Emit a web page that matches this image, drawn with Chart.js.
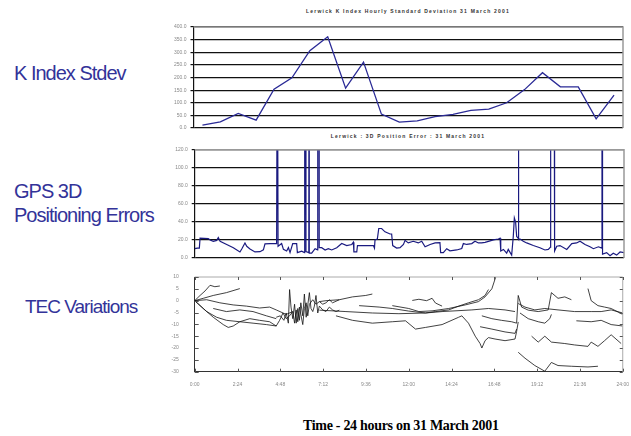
<!DOCTYPE html>
<html>
<head>
<meta charset="utf-8">
<script src="https://cdn.jsdelivr.net/npm/chart.js@4.4.0/dist/chart.umd.min.js"></script>
<style>
body { margin: 0; width: 631px; height: 436px; background: #fff; position: relative; overflow: hidden; font-family: Arial, "Liberation Sans", sans-serif; }
canvas { position: absolute; }
.side { position: absolute; color: #333399; font-size: 20px; line-height: 20px; letter-spacing: -1px; white-space: nowrap; }
.ctitle { position: absolute; font-size: 5px; line-height: 5px; font-weight: bold; letter-spacing: 1.2px; white-space: nowrap; text-align: center; color: #333; }
#xlabel { position: absolute; left: 303px; top: 419px; font-family: "Liberation Serif", "Times New Roman", serif; font-weight: bold; font-size: 14px; line-height: 14px; letter-spacing: -0.3px; white-space: nowrap; }
</style>
</head>
<body>
<div class="side" style="left:14px;top:63px">K Index Stdev</div>
<div class="side" style="left:14px;top:181px">GPS 3D</div>
<div class="side" style="left:14px;top:205px">Positioning Errors</div>
<div class="side" style="left:25px;top:297px;font-size:19px">TEC Variations</div>

<div class="ctitle" style="left:193px;width:430px;top:9px">Lerwick K Index Hourly Standard Deviation 31 March 2001</div>
<div class="ctitle" style="left:193px;width:430px;top:134px">Lerwick : 3D Position Error : 31 March 2001</div>

<canvas id="kChart" width="481" height="115" style="left:150px;top:20px"></canvas>
<canvas id="gpsChart" width="481" height="125" style="left:150px;top:140px"></canvas>
<canvas id="tecChart" width="481" height="125" style="left:150px;top:266px"></canvas>

<div id="xlabel">Time - 24 hours on 31 March 2001</div>

<script>
// K index hourly standard deviation
const kHours = ['00', '01', '02', '03', '04', '05', '06', '07', '08', '09', '10', '11',
    '12', '13', '14', '15', '16', '17', '18', '19', '20', '21', '22', '23'];
const kStdev = [11, 24, 58, 31, 154, 199, 306, 361, 158, 261, 55, 23,
    28, 45, 54, 70, 75, 100, 152, 219, 163, 163, 36, 130];

// GPS 3D position error, [hour, metres]
const gpsError = [
    [0, 10.3], [0.15, 11], [0.26, 11], [0.30, 22], [0.76, 21.5], [0.86, 20], [1.04, 18.5], [1.23, 19.5],
    [1.32, 22.7], [1.42, 18.5], [1.79, 15], [2.16, 11.4], [2.53, 6.7], [2.63, 10], [2.81, 16.7], [2.91, 13],
    [3.09, 10], [3.37, 6.7], [3.65, 7], [3.84, 9], [3.93, 15.6], [4.21, 16], [4.58, 16], [4.60, 16],
    [4.62, 300], [4.64, 300], [4.66, 13], [4.86, 16], [4.96, 9.6], [5.14, 7.8], [5.24, 11.5], [5.33, 6],
    [5.48, 16], [5.70, 16], [5.74, 6], [5.98, 7.5], [6.14, 6], [6.15, 300], [6.21, 300], [6.22, 7],
    [6.38, 6], [6.39, 300], [6.40, 300], [6.41, 5.3], [6.54, 5.3], [6.73, 10.3], [6.87, 9], [6.88, 300],
    [6.95, 300], [6.96, 11.4], [7.10, 11.4], [7.29, 8.9], [7.47, 10.3], [7.66, 8.9], [7.94, 11.4], [8.22, 16],
    [8.50, 13.8], [8.78, 15], [8.87, 17.4], [8.90, 6.7], [9.06, 6.7], [9.10, 13.8], [9.62, 13.8], [9.99, 13.8],
    [10.05, 11], [10.08, 20], [10.21, 21], [10.29, 32.7], [10.45, 32.7], [10.64, 29], [10.92, 26.6], [11.01, 26.6],
    [11.07, 13.8], [11.29, 11], [11.48, 11.4], [11.67, 15], [11.76, 19.5], [11.94, 16.7], [12.22, 18.5], [12.50, 16.7],
    [12.69, 18.5], [12.88, 12.4], [13.16, 15], [13.44, 16.7], [13.71, 17], [13.75, 6], [13.90, 6], [14.09, 10.3],
    [14.27, 8], [14.65, 8.9], [14.93, 10.5], [15.02, 16], [15.21, 15], [15.49, 16], [15.67, 18.5], [15.86, 16.7],
    [16.04, 16.7], [16.23, 17.4], [16.42, 18.5], [16.70, 20], [16.98, 21], [17.07, 22], [17.11, 7.8], [17.26, 9.5],
    [17.44, 5.3], [17.53, 9.5], [17.72, 3.2], [17.81, 23.8], [17.87, 44.4], [17.94, 39.8], [18.00, 23.8], [18.08, 22],
    [18.09, 300], [18.11, 300], [18.12, 21], [18.19, 21], [18.37, 18.5], [18.56, 16.7], [18.93, 13.8], [19.30, 11.4],
    [19.58, 8.9], [19.77, 9.5], [19.89, 12], [19.90, 300], [20.09, 300], [20.10, 8], [20.14, 7.8], [20.24, 13],
    [20.42, 13.8], [20.80, 9.5], [21.08, 16], [21.35, 16.7], [21.54, 18.5], [21.82, 15], [22.10, 12.4], [22.29, 10.3],
    [22.57, 12.4], [22.76, 11], [22.77, 300], [22.79, 300], [22.80, 4.3], [23.03, 6], [23.22, 2.5], [23.40, 5.3],
    [23.59, 3.2], [23.78, 6.7], [24.00, 6]
];

// TEC variation arcs, one per satellite pass, [hour, TEC units]
const tec1 = [[0, 0], [0.30, 2.2], [0.58, 4.1], [0.86, 6.5], [1.13, 5.9], [1.41, 6.2]];
const tec2 = [[0, 0], [0.48, 1.0], [1.04, 2.2], [1.78, 3.4], [2.53, 5.1]];
const tec3 = [[0, 0], [0.48, -3.3], [1.04, -7.0], [1.60, -10.1], [1.88, -11.3], [2.16, -10.7], [2.53, -8.9],
    [3.09, -7.6], [3.64, -8.3], [4.20, -8.9], [4.57, -10.7]];
const tec4 = [[0, 0], [0.67, -4.6], [1.23, -7.0], [1.78, -8.3], [2.53, -8.9], [3.27, -9.5], [4.02, -10.1],
    [4.57, -10.7], [4.76, -8.3]];
const tec5 = [[0, 0], [0.67, 0.4], [1.41, -0.9], [2.16, -1.8], [2.90, -2.3], [3.64, -3.1], [4.20, -2.7],
    [4.57, -3.9], [5.13, -5.8], [5.50, -4.6]];
const tec6 = [[1.04, -3.3], [1.78, -4.6], [2.53, -3.9], [3.27, -4.6], [4.02, -6.4], [4.57, -7.6]];
const tec7 = [[4.57, -7.0], [4.80, -6.4], [5.00, -8.3], [5.13, -5.2], [5.25, -9.5], [5.32, 4.7], [5.40, -2.7],
    [5.50, -7.6], [5.60, -1.5], [5.69, -9.5], [5.78, -3.3], [5.87, -8.3], [5.95, -0.9], [6.06, -6.4], [6.15, 2.8],
    [6.25, -7.0], [6.34, -1.8], [6.43, 3.4], [6.52, -3.3], [6.62, -4.6], [6.71, -2.3], [6.80, 2.2], [6.90, -5.2],
    [6.99, -2.3], [7.18, -3.9], [7.36, -4.6], [7.55, -2.7], [7.73, -3.9], [7.92, -4.6], [8.11, -4.0]];
const tec8 = [[4.76, -8.3], [4.95, -5.2], [5.13, -7.6], [5.32, -6.4], [5.50, -4.6], [5.60, -9.5], [5.69, -3.9],
    [5.78, -8.9], [5.87, -2.7], [6.06, -10.1], [6.15, -3.3], [6.25, -0.9], [6.34, -6.4], [6.43, -1.5], [6.62, 0.4],
    [6.80, -1.5], [6.99, -0.4], [7.18, -1.5], [7.36, -0.9], [7.55, 0.4], [7.73, -0.9], [8.11, 0.4]];
const tec9 = [[6.99, -0.4], [7.36, 0.0], [8.11, 0.4], [8.85, 1.6], [9.59, 2.2], [9.96, 2.8]];
const tec10 = [[6.99, -4.0], [8.48, -4.6], [9.96, -5.2], [11.45, -5.5], [12.94, -5.2], [13.87, -4.6],
    [15.54, -3.9], [16.47, -3.3], [17.40, -3.9], [17.96, -4.6]];
const tec11 = [[7.92, -6.4], [8.85, -8.3], [9.96, -9.5], [11.08, -8.9], [11.82, -8.5], [12.38, -12.0],
    [12.94, -11.3], [13.87, -10.1], [14.80, -7.0], [14.98, -6.4]];
const tec12 = [[9.22, -2.1], [10.34, -2.7], [11.08, -3.3], [12.0, -4.4], [12.94, -5.2], [13.50, -4.6],
    [14.24, -3.9], [14.80, -2.3], [15.35, -0.9], [15.91, 0.4], [16.28, 2.2], [16.47, 4.7]];
const tec13 = [[11.08, -2.1], [12.0, -3.3], [12.57, -4.6], [13.31, -4.3], [14.24, -3.3], [15.17, -1.8],
    [15.91, -0.4], [16.28, 1.6], [16.66, 5.0], [16.90, 10.5]];
const tec14 = [[12.20, 0.1], [12.57, 0.6], [13.0, 0.0], [13.31, 1.0], [13.50, -1.0], [13.87, -2.3]];
const tec15 = [[14.98, -6.4], [15.35, -9.5], [15.73, -15.0], [16.0, -18.1], [16.10, -20.0], [16.28, -16.9],
    [16.47, -15.6], [16.84, -16.2], [17.40, -16.9], [17.96, -16.2], [18.05, -13.0], [18.14, -9.0]];
const tec16 = [[16.0, -11.0], [16.66, -12.0], [17.40, -13.2], [17.96, -13.8], [18.05, -12.0]];
const tec17 = [[16.10, -6.4], [16.66, -7.6], [17.20, -8.3], [17.77, -8.9], [18.05, -9.5], [18.14, 2.2],
    [18.33, -2.7], [18.70, -4.0], [19.26, -4.6], [19.82, -3.9], [20.00, 3.4], [20.37, 1.0], [20.75, 1.6], [21.12, 0.4]];
const tec18 = [[18.14, -1.2], [18.52, -2.7], [19.07, -3.9], [19.63, -3.3], [20.37, -3.9], [21.30, -4.6],
    [22.23, -4.6], [22.79, -4.6], [23.35, -3.9], [24.0, -5.2]];
const tec19 = [[18.24, -5.2], [18.70, -7.6], [19.26, -8.9], [19.63, -9.5], [19.91, -7.6], [20.0, -5.8]];
const tec20 = [[18.89, -15.0], [19.26, -17.5], [19.63, -15.0], [20.0, -17.5], [20.75, -18.1], [21.30, -18.7],
    [22.05, -19.3], [22.23, -17.5], [22.61, -19.3], [22.98, -16.9], [23.35, -14.4], [23.91, -18.1]];
const tec21 = [[18.14, -21.8], [18.52, -24.3], [19.07, -27.4], [19.63, -29.8], [20.0, -26.1], [20.37, -27.4],
    [21.12, -27.7], [22.05, -28.0], [22.61, -27.7]];
const tec22 = [[22.05, 5.1], [22.23, 0.0], [22.61, -2.1], [22.98, -2.7], [23.35, -3.3], [24.0, -5.8]];
const tec23 = [[21.40, -8.5], [22.23, -8.9], [22.79, -8.3], [23.35, -10.1], [24.0, -10.7]];

const tecTicks = [10, 5, 0, -5, -10, -15, -20, -25, -30];
const timeTicks = [0, 2.4, 4.8, 7.2, 9.6, 12, 14.4, 16.8, 19.2, 21.6, 24];

const tickFont = { family: 'Arial', size: 5 };
const tickColor = '#888';

// gray frame along the top and right of the plot area
const framePlugin = {
    id: 'frame',
    afterDraw(chart, args, opts) {
        const a = chart.chartArea;
        const ctx = chart.ctx;
        ctx.save();
        ctx.strokeStyle = opts.color || '#999';
        ctx.lineWidth = opts.width || 1.5;
        ctx.beginPath();
        ctx.moveTo(a.left, a.top);
        ctx.lineTo(a.right, a.top);
        ctx.lineTo(a.right, a.bottom);
        ctx.stroke();
        ctx.restore();
    }
};

// short tick marks pointing into the plot area
const innerTicks = {
    id: 'innerTicks',
    afterDraw(chart) {
        const a = chart.chartArea;
        const ctx = chart.ctx;
        const x = chart.scales.x, y = chart.scales.y;
        ctx.save();
        ctx.strokeStyle = '#555';
        ctx.lineWidth = 1;
        ctx.beginPath();
        y.ticks.forEach(t => {
            const py = Math.round(y.getPixelForValue(t.value)) + 0.5;
            ctx.moveTo(a.left, py); ctx.lineTo(a.left + 4, py);
            ctx.moveTo(a.right, py); ctx.lineTo(a.right - 3, py);
        });
        x.ticks.forEach(t => {
            const px = Math.round(x.getPixelForValue(t.value)) + 0.5;
            ctx.moveTo(px, a.bottom); ctx.lineTo(px, a.bottom - 3);
            ctx.moveTo(px, a.top); ctx.lineTo(px, a.top + 3);
        });
        ctx.stroke();
        ctx.restore();
    }
};

Chart.defaults.animation = false;
Chart.defaults.responsive = false;
Chart.defaults.devicePixelRatio = 1;
Chart.defaults.plugins.legend.display = false;
Chart.defaults.plugins.tooltip.enabled = false;

new Chart(document.getElementById('kChart'), {
    type: 'line',
    data: {
        labels: kHours,
        datasets: [{
            data: kStdev,
            borderColor: '#2a2a96',
            borderWidth: 1.3,
            pointRadius: 0,
            tension: 0
        }]
    },
    options: {
        layout: { padding: { left: 0, right: 8, top: 4, bottom: 4.7 } },
        scales: {
            x: { display: false, offset: true },
            y: {
                min: 0, max: 400,
                afterFit: s => { s.width = 43.5; },
                ticks: { stepSize: 50, font: tickFont, color: tickColor, padding: 4, callback: v => v.toFixed(1) },
                grid: { color: '#111', lineWidth: 1.2, tickLength: 3 },
                border: { color: '#111', width: 1.2 }
            }
        },
        plugins: { frame: { color: '#999', width: 1.5 } }
    },
    plugins: [framePlugin]
});

new Chart(document.getElementById('gpsChart'), {
    type: 'line',
    data: {
        datasets: [{
            data: gpsError,
            borderColor: '#1a1a80',
            borderWidth: 1.2,
            pointRadius: 0,
            tension: 0
        }]
    },
    options: {
        layout: { padding: { left: 0, right: 7, top: 9.7, bottom: 2.7 } },
        scales: {
            x: { type: 'linear', min: 0, max: 24, display: false },
            y: {
                min: 0, max: 120,
                afterFit: s => { s.width = 44.7; },
                ticks: { stepSize: 20, font: tickFont, color: tickColor, padding: 4, callback: v => v.toFixed(1) },
                grid: { color: '#111', lineWidth: 1.2, tickLength: 3 },
                border: { color: '#111', width: 1.2 }
            }
        },
        plugins: { frame: { color: '#999', width: 1.5 } }
    },
    plugins: [framePlugin]
});

const tecArcs = [tec1, tec2, tec3, tec4, tec5, tec6, tec7, tec8, tec9, tec10, tec11, tec12,
    tec13, tec14, tec15, tec16, tec17, tec18, tec19, tec20, tec21, tec22, tec23];

new Chart(document.getElementById('tecChart'), {
    type: 'line',
    data: {
        datasets: tecArcs.map(arc => ({
            data: arc,
            borderColor: '#111',
            borderWidth: 0.8,
            pointRadius: 0,
            tension: 0
        }))
    },
    options: {
        layout: { padding: { left: 0, right: 6, top: 7.3, bottom: 1.3 } },
        scales: {
            x: {
                type: 'linear', min: 0, max: 24,
                afterBuildTicks: s => { s.ticks = timeTicks.map(v => ({ value: v })); },
                ticks: {
                    font: tickFont, color: tickColor, padding: 2, autoSkip: false, maxRotation: 0,
                    callback: v => {
                        const h = Math.floor(v + 1e-6);
                        const m = Math.round((v - h) * 60);
                        return h + ':' + String(m).padStart(2, '0');
                    }
                },
                grid: { display: false },
                border: { color: '#333', width: 1 }
            },
            y: {
                min: -30, max: 10,
                afterFit: s => { s.width = 44.7; },
                afterBuildTicks: s => { s.ticks = tecTicks.map(v => ({ value: v })); },
                ticks: { font: tickFont, color: tickColor, padding: 8 },
                grid: { display: false },
                border: { color: '#333', width: 1 }
            }
        },
        plugins: { frame: { color: '#aaa', width: 1 } }
    },
    plugins: [framePlugin, innerTicks]
});
</script>
</body>
</html>
